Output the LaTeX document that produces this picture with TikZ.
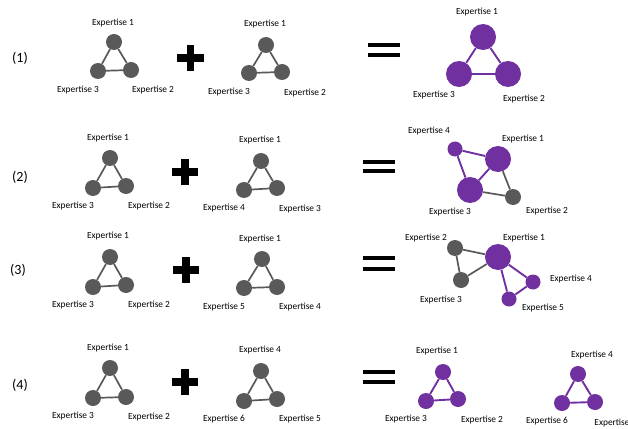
\documentclass[tikz,border=0pt]{standalone}
\usepackage{fontspec}
\setmainfont{Carlito}
\usetikzlibrary{positioning}
\definecolor{nodegray}{HTML}{595959}
\definecolor{nodepurple}{HTML}{7030A0}

\begin{document}
\begin{tikzpicture}[x=0.03cm, y=-0.03cm,
    gnode/.style={circle, fill=nodegray, inner sep=0pt, minimum size=0.48cm},
    pnode/.style={circle, fill=nodepurple, inner sep=0pt, minimum size=0.48cm},
    pbig/.style={pnode, minimum size=0.78cm},
    psmall/.style={pnode, minimum size=0.45cm},
    glink/.style={draw=nodegray, line width=1.45pt},
    plink/.style={draw=nodepurple, line width=1.6pt},
    lbl/.style={font=\fontsize{8}{9.6}\selectfont, inner sep=0pt},
    rowlbl/.style={font=\fontsize{12}{14}\selectfont, inner sep=0pt},
    plusbar/.style={line width=6.5pt, black},
    eqbar/.style={line width=2.6pt, black}]
\useasboundingbox (0,0) rectangle (628,428);

% row 1
\node[rowlbl] (r1) at (20,58) {(1)};
\node[gnode] (a1) at (114,42) {};
\node[gnode] (a2) at (131,70) {};
\node[gnode] (a3) at (98,71) {};
\node[lbl] (la1) at (113,23) {Expertise 1};
\node[lbl] (la2) at (153,90) {Expertise 2};
\node[lbl] (la3) at (78,90) {Expertise 3};
\draw[glink] (a1) -- (a2) -- (a3) -- (a1);
\draw[plusbar] (177,58) -- (204,58);
\draw[plusbar] (190.5,45) -- (190.5,71);
\node[gnode] (b1) at (266,45) {};
\node[gnode] (b2) at (282,72) {};
\node[gnode] (b3) at (249,73) {};
\node[lbl] (lb1) at (265,24) {Expertise 1};
\node[lbl] (lb2) at (305,93) {Expertise 2};
\node[lbl] (lb3) at (229,92) {Expertise 3};
\draw[glink] (b1) -- (b2) -- (b3) -- (b1);
\draw[eqbar] (368,45) -- (400,45);
\draw[eqbar] (368,55) -- (400,55);
\node[pbig] (c1) at (483,37) {};
\node[pbig] (c2) at (508,74) {};
\node[pbig] (c3) at (459,74) {};
\node[lbl] (lc1) at (477,12) {Expertise 1};
\node[lbl] (lc2) at (524,99) {Expertise 2};
\node[lbl] (lc3) at (434,95) {Expertise 3};
\draw[plink] (c1) -- (c2) -- (c3) -- (c1);

% row 2
\node[rowlbl] (r2) at (20,177) {(2)};
\node[gnode] (d1) at (110,158) {};
\node[gnode] (d2) at (126,186) {};
\node[gnode] (d3) at (93,188) {};
\node[lbl] (ld1) at (108,138) {Expertise 1};
\node[lbl] (ld2) at (149,206) {Expertise 2};
\node[lbl] (ld3) at (73,206) {Expertise 3};
\draw[glink] (d1) -- (d2) -- (d3) -- (d1);
\draw[plusbar] (172,172) -- (198,172);
\draw[plusbar] (185,159) -- (185,185);
\node[gnode] (e1) at (261,161) {};
\node[gnode] (e3) at (277,188) {};
\node[gnode] (e4) at (244,190) {};
\node[lbl] (le1) at (260,140) {Expertise 1};
\node[lbl] (le3) at (300,209) {Expertise 3};
\node[lbl] (le4) at (224,208) {Expertise 4};
\draw[glink] (e1) -- (e3) -- (e4) -- (e1);
\draw[eqbar] (363,162) -- (395,162);
\draw[eqbar] (363,171) -- (395,171);
\node[pbig] (f1) at (498,159) {};
\node[gnode] (f2) at (513,197) {};
\node[pbig] (f3) at (470,190) {};
\node[psmall] (f4) at (455,149) {};
\node[lbl] (lf1) at (523,139) {Expertise 1};
\node[lbl] (lf2) at (547,211) {Expertise 2};
\node[lbl] (lf3) at (450,212) {Expertise 3};
\node[lbl] (lf4) at (429,131) {Expertise 4};
\draw[glink] (f1) -- (f2) -- (f3);
\draw[plink] (f4) -- (f1) -- (f3) -- (f4);

% row 3
\node[rowlbl] (r3) at (18,270) {(3)};
\node[gnode] (g1) at (110,257) {};
\node[gnode] (g2) at (126,285) {};
\node[gnode] (g3) at (93,287) {};
\node[lbl] (lg1) at (108,236) {Expertise 1};
\node[lbl] (lg2) at (149,305) {Expertise 2};
\node[lbl] (lg3) at (73,305) {Expertise 3};
\draw[glink] (g1) -- (g2) -- (g3) -- (g1);
\draw[plusbar] (173,270) -- (199,270);
\draw[plusbar] (186,257) -- (186,283);
\node[gnode] (h1) at (262,259) {};
\node[gnode] (h4) at (277,287) {};
\node[gnode] (h5) at (244,288) {};
\node[lbl] (lh1) at (260,239) {Expertise 1};
\node[lbl] (lh4) at (300,307) {Expertise 4};
\node[lbl] (lh5) at (224,307) {Expertise 5};
\draw[glink] (h1) -- (h4) -- (h5) -- (h1);
\draw[eqbar] (363,258) -- (395,258);
\draw[eqbar] (363,269) -- (395,269);
\node[pbig] (k1) at (498,257) {};
\node[gnode] (k2) at (455,248) {};
\node[gnode] (k3) at (461,280) {};
\node[psmall] (k4) at (533,282) {};
\node[psmall] (k5) at (509,299) {};
\node[lbl] (lk1) at (524,238) {Expertise 1};
\node[lbl] (lk2) at (426,238) {Expertise 2};
\node[lbl] (lk3) at (441,300) {Expertise 3};
\node[lbl] (lk4) at (571,279) {Expertise 4};
\node[lbl] (lk5) at (543,308) {Expertise 5};
\draw[glink] (k1) -- (k2) -- (k3) -- (k1);
\draw[plink] (k1) -- (k4) -- (k5) -- (k1);

% row 4
\node[rowlbl] (r4) at (20,385) {(4)};
\node[gnode] (m1) at (110,368) {};
\node[gnode] (m2) at (126,397) {};
\node[gnode] (m3) at (93,398) {};
\node[lbl] (lm1) at (108,348) {Expertise 1};
\node[lbl] (lm2) at (149,417) {Expertise 2};
\node[lbl] (lm3) at (73,416) {Expertise 3};
\draw[glink] (m1) -- (m2) -- (m3) -- (m1);
\draw[plusbar] (172,382) -- (198,382);
\draw[plusbar] (185,369) -- (185,395);
\node[gnode] (n4) at (261,371) {};
\node[gnode] (n5) at (277,399) {};
\node[gnode] (n6) at (244,401) {};
\node[lbl] (ln4) at (260,350) {Expertise 4};
\node[lbl] (ln5) at (300,419) {Expertise 5};
\node[lbl] (ln6) at (224,419) {Expertise 6};
\draw[glink] (n4) -- (n5) -- (n6) -- (n4);
\draw[eqbar] (363,372) -- (395,372);
\draw[eqbar] (363,382) -- (395,382);
\node[pnode] (p1) at (443,372) {};
\node[pnode] (p2) at (458,399) {};
\node[pnode] (p3) at (426,401) {};
\node[lbl] (lp1) at (437,351) {Expertise 1};
\node[lbl] (lp2) at (482,420) {Expertise 2};
\node[lbl] (lp3) at (406,419) {Expertise 3};
\draw[plink] (p1) -- (p2) -- (p3) -- (p1);
\node[pnode] (q4) at (578,374) {};
\node[pnode] (q5) at (595,402) {};
\node[pnode] (q6) at (562,403) {};
\node[lbl] (lq4) at (592,355) {Expertise 4};
\node[lbl] (lq5) at (612,423) {Expertise};
\node[lbl] (lq6) at (547,421) {Expertise 6};
\draw[plink] (q4) -- (q5) -- (q6) -- (q4);

\end{tikzpicture}
\end{document}
